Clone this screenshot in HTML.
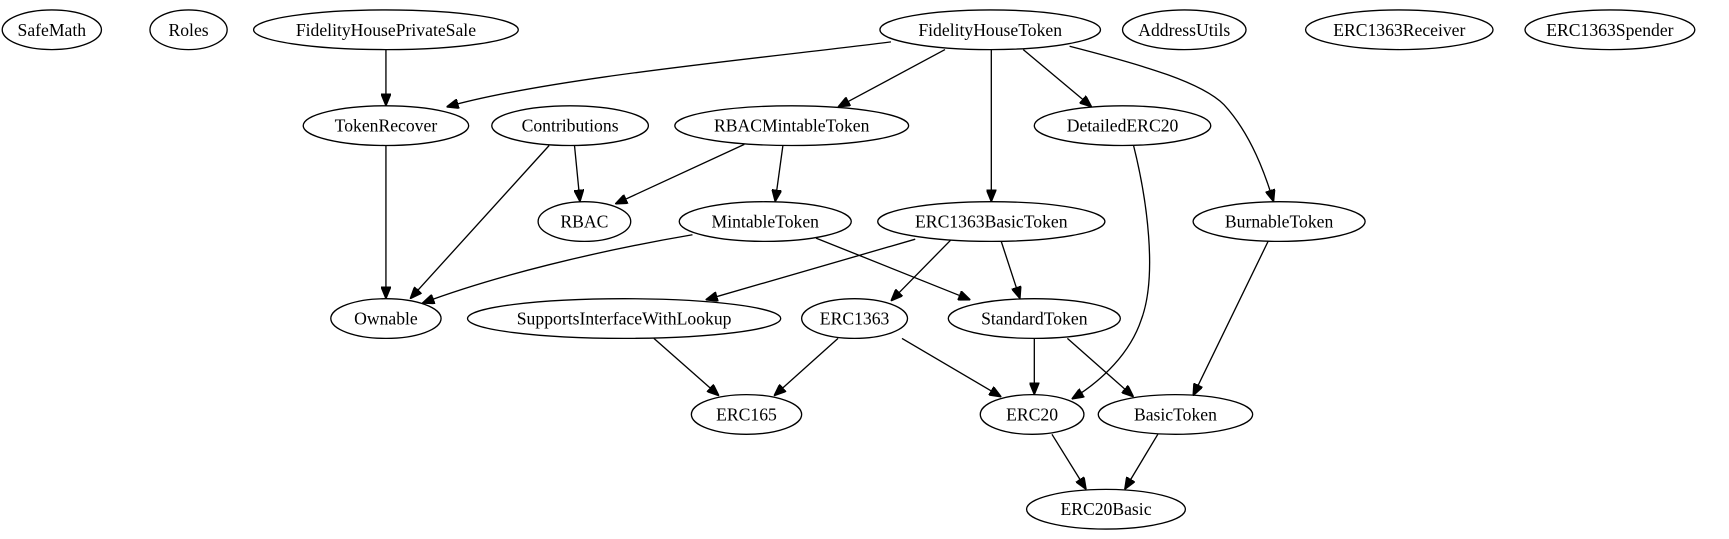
<!DOCTYPE html>
<html><head><meta charset="utf-8"><style>
html,body{margin:0;padding:0;background:#fff;}
svg{display:block}
text{font-family:"Liberation Serif",serif;font-size:16px;text-anchor:middle;dominant-baseline:central;fill:#000}
ellipse{fill:none;stroke:#000;stroke-width:1.2}
path{fill:none;stroke:#000;stroke-width:1.2}
</style></head><body>
<svg width="1729" height="539" viewBox="0 0 1568 489" preserveAspectRatio="none">
<defs><marker id="a" markerWidth="11" markerHeight="9" refX="11" refY="4.5" orient="auto" markerUnits="userSpaceOnUse"><path d="M0,0 L11,4.5 L0,9 Z" style="fill:#000;stroke:#000"/></marker></defs>
<g>
<ellipse cx="47" cy="27" rx="45" ry="18"/><text x="47" y="27">SafeMath</text>
<ellipse cx="171" cy="27" rx="35" ry="18"/><text x="171" y="27">Roles</text>
<ellipse cx="350" cy="27" rx="120" ry="18"/><text x="350" y="27">FidelityHousePrivateSale</text>
<ellipse cx="898" cy="27" rx="100" ry="18"/><text x="898" y="27">FidelityHouseToken</text>
<ellipse cx="1074" cy="27" rx="56" ry="18"/><text x="1074" y="27">AddressUtils</text>
<ellipse cx="1269" cy="27" rx="85" ry="18"/><text x="1269" y="27">ERC1363Receiver</text>
<ellipse cx="1460" cy="27" rx="77" ry="18"/><text x="1460" y="27">ERC1363Spender</text>
<ellipse cx="350" cy="114" rx="75" ry="18"/><text x="350" y="114">TokenRecover</text>
<ellipse cx="517" cy="114" rx="71" ry="18"/><text x="517" y="114">Contributions</text>
<ellipse cx="718" cy="114" rx="106" ry="18"/><text x="718" y="114">RBACMintableToken</text>
<ellipse cx="1018" cy="114" rx="80" ry="18"/><text x="1018" y="114">DetailedERC20</text>
<ellipse cx="530" cy="201" rx="42" ry="18"/><text x="530" y="201">RBAC</text>
<ellipse cx="694" cy="201" rx="78" ry="18"/><text x="694" y="201">MintableToken</text>
<ellipse cx="899" cy="201" rx="103" ry="18"/><text x="899" y="201">ERC1363BasicToken</text>
<ellipse cx="1160" cy="201" rx="78" ry="18"/><text x="1160" y="201">BurnableToken</text>
<ellipse cx="350" cy="289" rx="50" ry="18"/><text x="350" y="289">Ownable</text>
<ellipse cx="566" cy="289" rx="142" ry="18"/><text x="566" y="289">SupportsInterfaceWithLookup</text>
<ellipse cx="775" cy="289" rx="48" ry="18"/><text x="775" y="289">ERC1363</text>
<ellipse cx="938" cy="289" rx="78" ry="18"/><text x="938" y="289">StandardToken</text>
<ellipse cx="677" cy="376" rx="50" ry="18"/><text x="677" y="376">ERC165</text>
<ellipse cx="936" cy="376" rx="47" ry="18"/><text x="936" y="376">ERC20</text>
<ellipse cx="1066" cy="376" rx="70" ry="18"/><text x="1066" y="376">BasicToken</text>
<ellipse cx="1003" cy="462" rx="72" ry="18"/><text x="1003" y="462">ERC20Basic</text>
</g>
<g marker-end="url(#a)">
<path d="M350,45 L350,96"/>
<path d="M808,38 C700,52 500,70 405,97"/>
<path d="M857,45 L760,97"/>
<path d="M899,45 L899,183"/>
<path d="M928,45 L990,97"/>
<path d="M970,42 C1040,60 1090,75 1110,95 C1135,122 1148,160 1155,183"/>
<path d="M350,132 L350,271"/>
<path d="M521,132 L526,183"/>
<path d="M498,132 L372,271"/>
<path d="M675,131 L558,185"/>
<path d="M710,132 L703,183"/>
<path d="M1028,132 C1040,180 1050,250 1035,290 C1025,320 1000,345 972,362"/>
<path d="M628,213 C540,228 450,250 383,275"/>
<path d="M740,216 L880,272"/>
<path d="M830,217 L640,272"/>
<path d="M862,218 L808,273"/>
<path d="M908,219 L925,271"/>
<path d="M1150,219 L1082,359"/>
<path d="M593,307 L652,359"/>
<path d="M760,307 L702,359"/>
<path d="M818,307 L908,360"/>
<path d="M938,307 L938,358"/>
<path d="M968,307 L1028,360"/>
<path d="M954,394 L985,444"/>
<path d="M1050,394 L1020,444"/>
</g>
</svg>
</body></html>
